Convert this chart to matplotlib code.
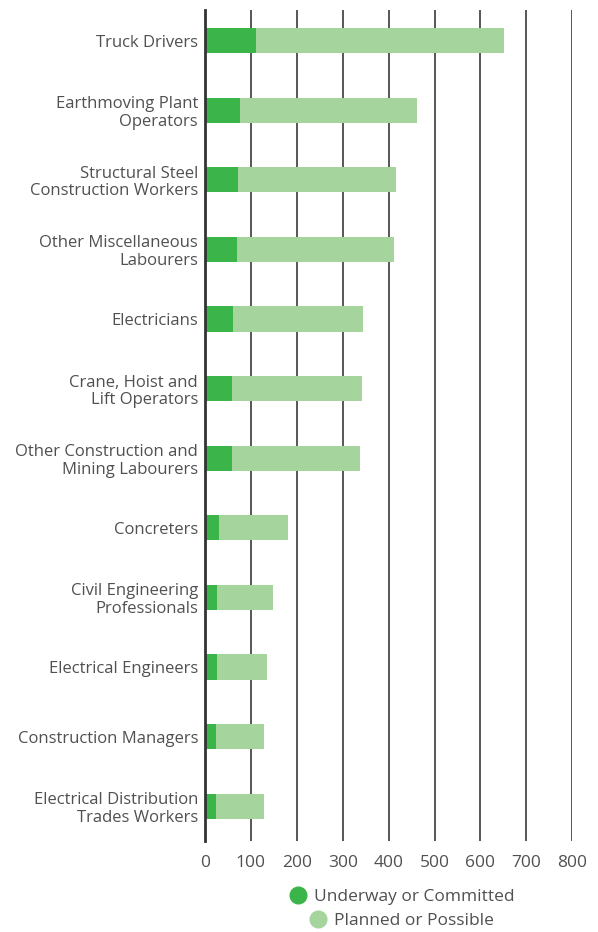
import matplotlib
matplotlib.use("Agg")
import matplotlib.pyplot as plt
from matplotlib.lines import Line2D

categories = [
    "Truck Drivers",
    "Earthmoving Plant\nOperators",
    "Structural Steel\nConstruction Workers",
    "Other Miscellaneous\nLabourers",
    "Electricians",
    "Crane, Hoist and\nLift Operators",
    "Other Construction and\nMining Labourers",
    "Concreters",
    "Civil Engineering\nProfessionals",
    "Electrical Engineers",
    "Construction Managers",
    "Electrical Distribution\nTrades Workers",
]
underway = [111, 76, 72, 70, 61, 59, 59, 31, 26, 26, 24, 24]
totals = [652, 462, 416, 412, 344, 342, 338, 181, 148, 135, 129, 129]
planned = [t - u for t, u in zip(totals, underway)]
xticks = [0, 100, 200, 300, 400, 500, 600, 700, 800]
series_names = ["Underway or Committed", "Planned or Possible"]

dark = "#3bb54a"
light = "#a5d49d"
txt = "#505050"

plt.rcParams["font.family"] = ["Open Sans", "DejaVu Sans"]

fig = plt.figure(figsize=(5.98, 9.32), dpi=100)
ax = fig.add_axes([205 / 598, 1 - 841 / 932, (572.3 - 205) / 598, (841 - 10) / 932])

y = list(range(len(categories)))
ax.barh(y, underway, height=0.36, color=dark, zorder=3)
ax.barh(y, planned, left=underway, height=0.36, color=light, zorder=3)

ax.set_xlim(0, 800)
ax.set_ylim(11.5, -0.44)
ax.set_yticks(y)
ax.set_yticklabels(categories, fontsize=12, color=txt, linespacing=1.12)
ax.set_xticks(xticks)
ax.set_xticklabels([str(v) for v in xticks], fontsize=12.5, color=txt)
ax.tick_params(axis="y", length=0, pad=5)
ax.tick_params(axis="x", length=0, pad=10)
ax.grid(axis="x", color="#3a3a3a", linewidth=1.2, zorder=0)
for s in ["top", "right", "bottom"]:
    ax.spines[s].set_visible(False)
ax.spines["left"].set_color("#333333")
ax.spines["left"].set_linewidth(2)
ax.spines["left"].set_zorder(4)

h1 = Line2D([], [], marker="o", linestyle="none", markersize=12, color=dark)
h2 = Line2D([], [], marker="o", linestyle="none", markersize=12, color=light)
fig.legend([h1], [series_names[0]], loc="center",
           bbox_to_anchor=(401 / 598, 1 - 896.5 / 932), frameon=False,
           fontsize=12.5, labelcolor=txt, handletextpad=0.3, borderpad=0, handlelength=1.2)
fig.legend([h2], [series_names[1]], loc="center",
           bbox_to_anchor=(401 / 598, 1 - 921 / 932), frameon=False,
           fontsize=12.5, labelcolor=txt, handletextpad=0.3, borderpad=0, handlelength=1.2)

fig.savefig("out.png", dpi=100)
